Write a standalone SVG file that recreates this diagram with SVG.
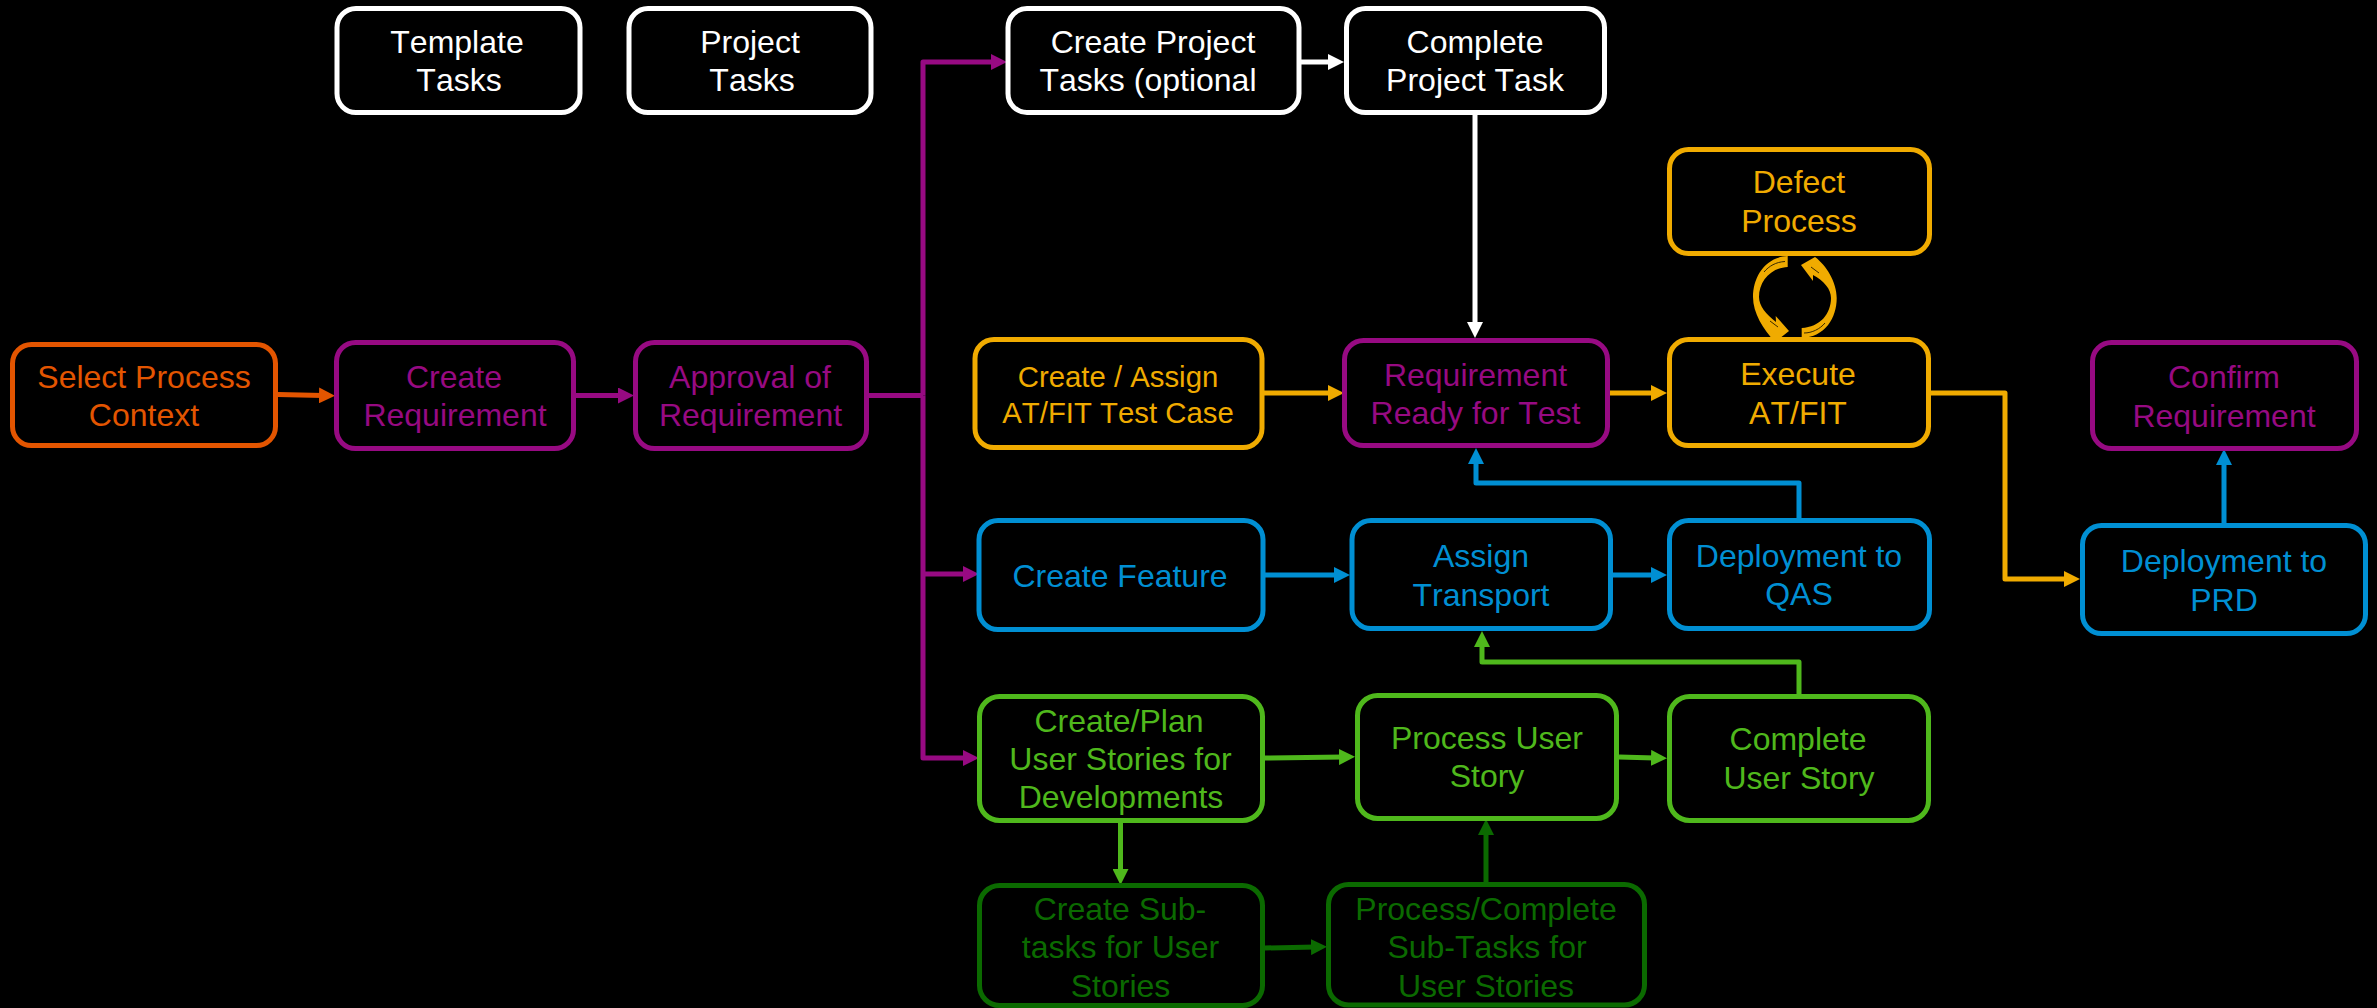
<svg xmlns="http://www.w3.org/2000/svg" width="2377" height="1008" viewBox="0 0 2377 1008">
<style>
text{font-family:"Liberation Sans",Arial,sans-serif;font-size:32px;text-anchor:middle;font-kerning:none}
rect{fill:#000;stroke-width:5}
#connectors path{fill:none;stroke-width:5;stroke-linejoin:round}
#connectors path.arc{fill:#F0AB00;stroke:none}
#connectors path.slit{stroke-width:1;stroke:#3a2a00}
.small{font-size:29.33px}
.w rect{stroke:#fff}.w text{fill:#fff}
.o rect{stroke:#E35500}.o text{fill:#E35500}
.p rect{stroke:#970A82}.p text{fill:#970A82}
.y rect{stroke:#F0AB00}.y text{fill:#F0AB00}
.b rect{stroke:#008FD3}.b text{fill:#008FD3}
.g rect{stroke:#4FB81C}.g text{fill:#4FB81C}
.d rect{stroke:#0B6A00}.d text{fill:#0B6A00}
</style>
<defs>
<marker id="mw" markerUnits="userSpaceOnUse" markerWidth="16" markerHeight="16" refX="4" refY="8" orient="auto"><polygon points="0,0 16,8 0,16" fill="#fff"/></marker>
<marker id="mo" markerUnits="userSpaceOnUse" markerWidth="16" markerHeight="16" refX="4" refY="8" orient="auto"><polygon points="0,0 16,8 0,16" fill="#E35500"/></marker>
<marker id="mp" markerUnits="userSpaceOnUse" markerWidth="16" markerHeight="16" refX="4" refY="8" orient="auto"><polygon points="0,0 16,8 0,16" fill="#970A82"/></marker>
<marker id="my" markerUnits="userSpaceOnUse" markerWidth="16" markerHeight="16" refX="4" refY="8" orient="auto"><polygon points="0,0 16,8 0,16" fill="#F0AB00"/></marker>
<marker id="mb" markerUnits="userSpaceOnUse" markerWidth="16" markerHeight="16" refX="4" refY="8" orient="auto"><polygon points="0,0 16,8 0,16" fill="#008FD3"/></marker>
<marker id="mg" markerUnits="userSpaceOnUse" markerWidth="16" markerHeight="16" refX="4" refY="8" orient="auto"><polygon points="0,0 16,8 0,16" fill="#4FB81C"/></marker>
<marker id="md" markerUnits="userSpaceOnUse" markerWidth="16" markerHeight="16" refX="4" refY="8" orient="auto"><polygon points="0,0 16,8 0,16" fill="#0B6A00"/></marker>
</defs>
<rect x="0" y="0" width="2377" height="1008" style="fill:#000;stroke:none"/>
<g id="connectors">
<path d="M278 394.500L323 395.500" stroke="#E35500" marker-end="url(#mo)"/>
<path d="M576 395.500H622" stroke="#970A82" marker-end="url(#mp)"/>
<path d="M869 395.500H923" stroke="#970A82"/>
<path d="M923 395.500V62H995" stroke="#970A82" marker-end="url(#mp)"/>
<path d="M923 395.500V758H967" stroke="#970A82" marker-end="url(#mp)"/>
<path d="M923 574H967" stroke="#970A82" marker-end="url(#mp)"/>
<path d="M1301 62H1332" stroke="#fff" marker-end="url(#mw)"/>
<path d="M1475 113V326" stroke="#fff" marker-end="url(#mw)"/>
<path d="M1264 393H1332" stroke="#F0AB00" marker-end="url(#my)"/>
<path d="M1610 393H1655" stroke="#F0AB00" marker-end="url(#my)"/>
<path d="M1931 393H2005V579H2068" stroke="#F0AB00" marker-end="url(#my)"/>
<path d="M1265 575H1338" stroke="#008FD3" marker-end="url(#mb)"/>
<path d="M1613 575H1655" stroke="#008FD3" marker-end="url(#mb)"/>
<path d="M1799 520V483H1476V460" stroke="#008FD3" marker-end="url(#mb)"/>
<path d="M2224 525V461" stroke="#008FD3" marker-end="url(#mb)"/>
<path d="M1265 758L1343 757" stroke="#4FB81C" marker-end="url(#mg)"/>
<path d="M1619 757L1655 758" stroke="#4FB81C" marker-end="url(#mg)"/>
<path d="M1799 694V662H1482V643" stroke="#4FB81C" marker-end="url(#mg)"/>
<path d="M1120.500 823V873" stroke="#4FB81C" marker-end="url(#mg)"/>
<path d="M1265 948L1315 947" stroke="#0B6A00" marker-end="url(#md)"/>
<path d="M1486 882V831" stroke="#0B6A00" marker-end="url(#md)"/>
<path class="arc" d="M1787.700 256C1765 257 1753 277 1753 297C1753 313 1763 329 1775 342L1789 331L1775.700 316L1776 322C1766 314 1759 306 1759 297C1759 282 1770 268 1787.700 267Z"/>
<path class="arc" d="M1801.700 338C1825 337 1836.700 318 1836.700 298C1836.700 282 1826 265 1815 257L1801 265L1813 281L1813 275C1824 281 1831 289 1831 298C1831 314 1820 327 1801.700 328Z"/>
<path class="slit" d="M1785 261.500C1776 262 1769 266 1764 272"/>
<path class="slit" d="M1770 321L1778 327"/>
<path class="slit" d="M1804 333C1812 333 1820 329 1825 323"/>
<path class="slit" d="M1819 273L1811 267"/>
</g>
<g id="n-template" class="w"><rect x="337" y="8.500" width="243" height="104" rx="19"/><text x="457" y="53">Template</text><text x="459" y="91">Tasks</text></g>
<g id="n-project" class="w"><rect x="629" y="8.500" width="242" height="104" rx="19"/><text x="750" y="53">Project</text><text x="752" y="91">Tasks</text></g>
<g id="n-create-project" class="w"><rect x="1008" y="8.500" width="291" height="104" rx="19"/><text x="1153" y="53">Create Project</text><text x="1148" y="91">Tasks (optional</text></g>
<g id="n-complete-project" class="w"><rect x="1346.500" y="8.500" width="258" height="104" rx="19"/><text x="1475" y="53">Complete</text><text x="1475" y="91">Project Task</text></g>
<g id="n-defect" class="y"><rect x="1669.500" y="149.500" width="260" height="104" rx="19"/><text x="1799" y="193">Defect</text><text x="1799" y="232">Process</text></g>
<g id="n-select" class="o"><rect x="12.500" y="344.500" width="263" height="101" rx="19"/><text x="144" y="388">Select Process</text><text x="144" y="426">Context</text></g>
<g id="n-create-req" class="p"><rect x="336.500" y="342.500" width="237" height="106" rx="19"/><text x="454" y="388">Create</text><text x="455" y="426">Requirement</text></g>
<g id="n-approval" class="p"><rect x="635.500" y="342.500" width="231" height="106" rx="19"/><text x="750" y="388">Approval of</text><text x="750.500" y="426">Requirement</text></g>
<g id="n-assign-case" class="y"><rect x="975" y="339.500" width="287" height="108" rx="19"/><text class="small" x="1118" y="387">Create / Assign</text><text class="small" x="1118" y="423">AT/FIT Test Case</text></g>
<g id="n-ready" class="p"><rect x="1344.500" y="340.500" width="263" height="105" rx="19"/><text x="1475.500" y="386">Requirement</text><text x="1475.500" y="424">Ready for Test</text></g>
<g id="n-execute" class="y"><rect x="1669.500" y="339.500" width="259" height="106" rx="19"/><text x="1798" y="385">Execute</text><text x="1798" y="424">AT/FIT</text></g>
<g id="n-confirm" class="p"><rect x="2092.500" y="342.500" width="264" height="106" rx="19"/><text x="2224" y="388">Confirm</text><text x="2224" y="427">Requirement</text></g>
<g id="n-feature" class="b"><rect x="979" y="520.500" width="284" height="109" rx="19"/><text x="1120" y="587">Create Feature</text></g>
<g id="n-transport" class="b"><rect x="1352" y="520.500" width="258.500" height="108" rx="19"/><text x="1481" y="567">Assign</text><text x="1481" y="606">Transport</text></g>
<g id="n-qas" class="b"><rect x="1669.500" y="520.500" width="260" height="108" rx="19"/><text x="1799" y="567">Deployment to</text><text x="1799" y="605">QAS</text></g>
<g id="n-prd" class="b"><rect x="2082.500" y="525.500" width="283" height="108" rx="19"/><text x="2224" y="572">Deployment to</text><text x="2224" y="611">PRD</text></g>
<g id="n-plan" class="g"><rect x="979.500" y="696.500" width="283" height="124" rx="20"/><text x="1119" y="732">Create/Plan</text><text x="1120.500" y="770">User Stories for</text><text x="1121" y="808">Developments</text></g>
<g id="n-process" class="g"><rect x="1357.500" y="695.500" width="259" height="123" rx="20"/><text x="1487" y="749">Process User</text><text x="1487" y="787">Story</text></g>
<g id="n-complete" class="g"><rect x="1669.500" y="696.500" width="259" height="124" rx="20"/><text x="1798" y="750">Complete</text><text x="1799" y="789">User Story</text></g>
<g id="n-subtasks" class="d"><rect x="979.500" y="885.500" width="283" height="120" rx="20"/><text x="1120" y="920">Create Sub-</text><text x="1120.500" y="958">tasks for User</text><text x="1120.500" y="997">Stories</text></g>
<g id="n-process-sub" class="d"><rect x="1328.500" y="884.500" width="316" height="120.500" rx="20"/><text x="1486" y="920">Process/Complete</text><text x="1487" y="958">Sub-Tasks for</text><text x="1486" y="997">User Stories</text></g>
</svg>
